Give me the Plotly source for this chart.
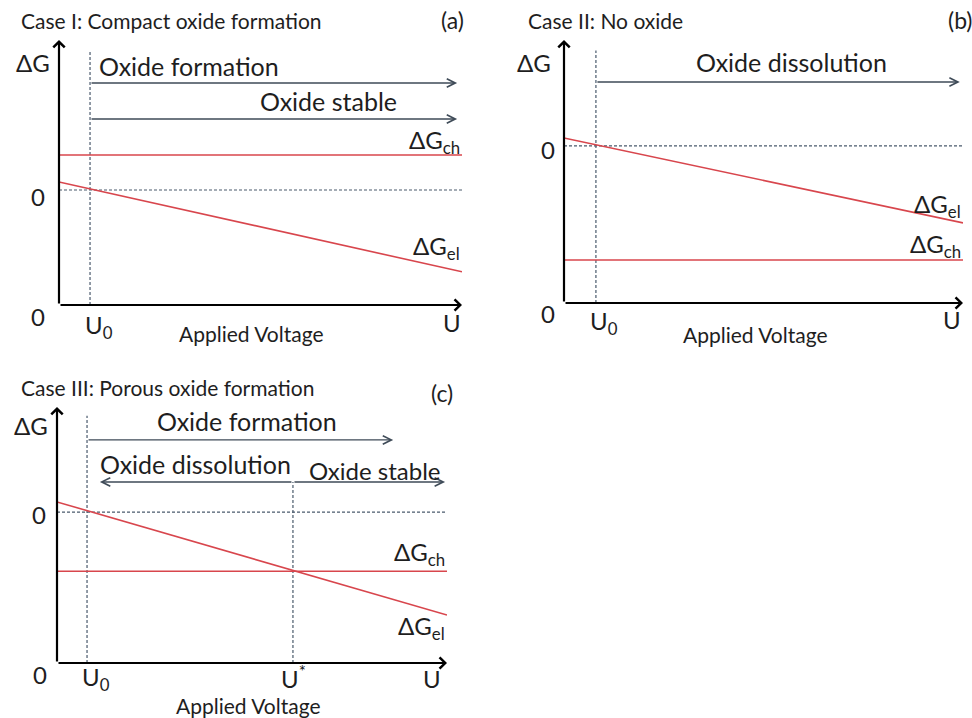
import plotly.graph_objects as go

W, H = 972, 718

# ---------------- data (arbitrary schematic units) ----------------
# x: applied voltage, 0..10 ; y: Gibbs energy, 0 = dashed reference line
U_MAX = 10.0

# Panel (a) Compact oxide
a_U0 = 0.77
a_Gch = 1.0
a_Gel = [0.23, -2.34]          # at U=0, U=U_MAX
a_yrange = [-3.29, 4.29]
a_arrow_form_y = 3.06
a_arrow_stable_y = 2.03
a_arrow_end = 9.88

# Panel (b) No oxide
b_U0 = 0.80
b_Gch = -3.26
b_Gel = [0.23, -2.2]
b_yrange = [-4.49, 3.03]
b_arrow_diss_y = 1.83
b_arrow_end = 9.92

# Panel (c) Porous oxide
c_U0 = 0.77
c_Ustar = 6.05
c_Gch = -1.69
c_Gel = [0.29, -2.94]
c_yrange = [-4.31, 3.0]
c_arrow_form_y = 2.06
c_arrow_form_end = 8.62
c_arrow_diss_y = 0.86
c_arrow_diss_end = 1.10
c_arrow_stable_end = 9.95

# ---------------- layout helpers ----------------
def xd(p0, p1):
    return [p0 / W, p1 / W]

def yd(ptop, pbot):
    return [1 - pbot / H, 1 - ptop / H]

RED = "#d8464d"
DASH = "#4a5a6c"
ARROW = "#3f4b58"
FONT = "Lato"
TXT = "#1e1e1e"

fig = go.Figure()

panels = [
    dict(x="x", y="y", xdom=xd(59, 462), ydom=yd(40, 305), yr=a_yrange),
    dict(x="x2", y="y2", xdom=xd(564, 963), ydom=yd(40, 303), yr=b_yrange),
    dict(x="x3", y="y3", xdom=xd(57, 447), ydom=yd(407, 663), yr=c_yrange),
]

layout = dict(
    width=W, height=H, margin=dict(l=0, r=0, t=0, b=0),
    paper_bgcolor="white", plot_bgcolor="white", showlegend=False,
    font=dict(family=FONT, color=TXT),
)
for i, p in enumerate(panels):
    s = "" if i == 0 else str(i + 1)
    layout["xaxis" + s] = dict(domain=p["xdom"], range=[0, U_MAX], visible=False,
                               anchor="y" + s, fixedrange=True)
    layout["yaxis" + s] = dict(domain=p["ydom"], range=p["yr"], visible=False,
                               anchor="x" + s, fixedrange=True)
fig.update_layout(**layout)

ann = []

def line(xs, ys, ax, color, width=1.6, dash="solid"):
    fig.add_trace(go.Scatter(x=xs, y=ys, mode="lines", xaxis=ax["x"], yaxis=ax["y"],
                             line=dict(color=color, width=width, dash=dash),
                             hoverinfo="skip", cliponaxis=False))

def arrow(ax, x0, y0, x1, y1, color=ARROW, width=1.4, head=5, size=1.2):
    ann.append(dict(x=x1, y=y1, ax=x0, ay=y0, xref=ax["x"], yref=ax["y"],
                    axref=ax["x"], ayref=ax["y"], text="", showarrow=True,
                    arrowhead=head, arrowsize=size, arrowwidth=width, arrowcolor=color))

def text(ax, x, y, t, size=22, xanchor="left", yanchor="middle", ref="data"):
    if ref == "data":
        ann.append(dict(x=x, y=y, xref=ax["x"], yref=ax["y"], text=t, showarrow=False,
                        xanchor=xanchor, yanchor=yanchor,
                        font=dict(size=size, family=FONT, color=TXT)))
    else:
        ann.append(dict(x=x / W, y=1 - y / H, xref="paper", yref="paper", text=t,
                        showarrow=False, xanchor=xanchor, yanchor=yanchor,
                        font=dict(size=size, family=FONT, color=TXT)))

def axes(ax, yr):
    arrow(ax, 0, yr[0], U_MAX, yr[0], color="black", width=2.2, head=4, size=1.0)
    arrow(ax, 0, yr[0], 0, yr[1], color="black", width=2.2, head=4, size=1.0)

GCH = "ΔG<sub>ch</sub>"
GEL = "ΔG<sub>el</sub>"
DSH = "3px,2px"
TS = 21     # title size
LS = 25     # region label size
AS = 24     # axis symbol size
VS = 21     # "Applied Voltage"

# ---------------- panel (a) ----------------
A = panels[0]
line([0, U_MAX], [0, 0], A, DASH, 1.2, DSH)
line([a_U0, a_U0], [a_yrange[0], a_yrange[1] - 0.3], A, DASH, 1.2, DSH)
line([0, U_MAX], [a_Gch, a_Gch], A, RED)
line([0, U_MAX], a_Gel, A, RED)
axes(A, a_yrange)
arrow(A, a_U0, a_arrow_form_y, a_arrow_end, a_arrow_form_y)
arrow(A, a_U0, a_arrow_stable_y, a_arrow_end, a_arrow_stable_y)
text(None, 19, 20, "Case I: Compact oxide formation", TS, ref="px")
text(None, 466, 20, "(a)", 23, xanchor="right", ref="px")
text(None, 52, 62, "ΔG", AS, xanchor="right", ref="px")
text(None, 47, 196, "0", AS, xanchor="right", ref="px")
text(None, 47, 316, "0", AS, xanchor="right", ref="px")
text(None, 83, 326, "U<sub>0</sub>", AS, ref="px")
text(None, 251, 333, "Applied Voltage", VS, xanchor="center", ref="px")
text(None, 463, 322, "U", AS, xanchor="right", ref="px")
text(A, 0.95, 3.55, "Oxide formation", LS)
text(A, 4.95, 2.55, "Oxide stable", LS)
text(A, 10.0, 1.38, GCH, AS, xanchor="right")
text(A, 10.0, -1.65, GEL, AS, xanchor="right")

# ---------------- panel (b) ----------------
B = panels[1]
line([0, U_MAX + 0.3], [0, 0], B, DASH, 1.2, DSH)
line([b_U0, b_U0], [b_yrange[0], b_yrange[1] - 0.3], B, DASH, 1.2, DSH)
line([0, U_MAX], [b_Gch, b_Gch], B, RED)
line([0, U_MAX], b_Gel, B, RED)
axes(B, b_yrange)
arrow(B, b_U0, b_arrow_diss_y, b_arrow_end, b_arrow_diss_y)
text(None, 526, 20, "Case II: No oxide", TS, ref="px")
text(None, 946, 20, "(b)", 23, ref="px")
text(None, 553, 62, "ΔG", AS, xanchor="right", ref="px")
text(None, 557, 150, "0", AS, xanchor="right", ref="px")
text(None, 557, 313, "0", AS, xanchor="right", ref="px")
text(None, 588, 322, "U<sub>0</sub>", AS, ref="px")
text(None, 755, 334, "Applied Voltage", VS, xanchor="center", ref="px")
text(None, 963, 320, "U", AS, xanchor="right", ref="px")
text(B, 3.25, 2.39, "Oxide dissolution", LS)
text(B, 10.0, -1.7, GEL, AS, xanchor="right")
text(B, 10.0, -2.85, GCH, AS, xanchor="right")

# ---------------- panel (c) ----------------
C = panels[2]
line([0, U_MAX], [0, 0], C, DASH, 1.2, DSH)
line([c_U0, c_U0], [c_yrange[0], c_yrange[1] - 0.25], C, DASH, 1.2, DSH)
line([c_Ustar, c_Ustar], [c_yrange[0], c_arrow_diss_y], C, DASH, 1.2, DSH)
line([0, U_MAX], [c_Gch, c_Gch], C, RED)
line([0, U_MAX], c_Gel, C, RED)
axes(C, c_yrange)
arrow(C, c_U0, c_arrow_form_y, c_arrow_form_end, c_arrow_form_y)
arrow(C, c_Ustar, c_arrow_diss_y, c_arrow_diss_end, c_arrow_diss_y)
arrow(C, c_Ustar, c_arrow_diss_y, c_arrow_stable_end, c_arrow_diss_y)
text(None, 19, 388, "Case III: Porous oxide formation", TS, ref="px")
text(None, 455, 393, "(c)", 23, xanchor="right", ref="px")
text(None, 50, 425, "ΔG", AS, xanchor="right", ref="px")
text(None, 48, 514, "0", AS, xanchor="right", ref="px")
text(None, 49, 674, "0", AS, xanchor="right", ref="px")
text(None, 80, 678, "U<sub>0</sub>", AS, ref="px")
text(None, 293, 677, "U<sup>*</sup>", AS, xanchor="center", ref="px")
text(None, 443, 678, "U", AS, xanchor="right", ref="px")
text(None, 248, 705, "Applied Voltage", VS, xanchor="center", ref="px")
text(C, 2.5, 2.6, "Oxide formation", LS)
text(C, 1.05, 1.38, "Oxide dissolution", LS)
text(C, 6.4, 1.2, "Oxide stable", 24)
text(C, 10.0, -1.18, GCH, AS, xanchor="right")
text(C, 10.0, -3.3, GEL, AS, xanchor="right")

fig.update_layout(annotations=ann)
fig.write_html("out.html")
